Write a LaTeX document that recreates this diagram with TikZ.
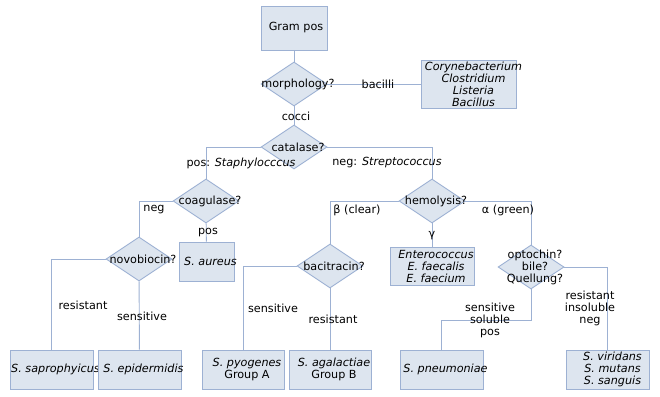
\documentclass[tikz,border=0pt]{standalone}
\usepackage{fontspec}
\setmainfont{DejaVu Sans}
\usepackage{xcolor}
\usetikzlibrary{shapes.geometric}

\definecolor{boxfill}{HTML}{DDE5EF}
\definecolor{boxline}{HTML}{9DB1D3}

\tikzset{
  box/.style={draw=boxline,fill=boxfill,line width=0.9pt,rectangle,
    inner sep=0pt,minimum width=83pt,minimum height=39pt},
  dia/.style={draw=boxline,fill=boxfill,line width=0.9pt,diamond,
    inner sep=0pt,minimum width=66pt,minimum height=44pt},
  edge/.style={draw=boxline,line width=0.9pt},
  every label/.style={align=center,xshift=4pt},
  every node/.style={font=\fontsize{11.2}{12}\selectfont}
}

\begin{document}
\begin{tikzpicture}[x=1pt,y=-1pt]
  \useasboundingbox (0,0) rectangle (660,396);
  % boxes and tests
  \node[box,minimum width=66pt,minimum height=44pt,
    label={[xshift=-2pt]center:Gram pos}] (gram) at (294,28) {};
  \node[dia,label=center:{morphology?}] (morph) at (294,84) {};
  \node[box,minimum width=95pt,minimum height=48pt,
    label={[xshift=1pt]center:{\itshape Corynebacterium\\\itshape Clostridium\\\itshape Listeria\\\itshape Bacillus}}] (bacil) at (468.5,84) {};
  \node[dia,label=center:{catalase?}] (cat) at (294,147) {};
  \node[dia,label=center:{coagulase?}] (coag) at (206,201) {};
  \node[box,minimum width=55pt,label=center:{\itshape S. aureus}] (aureus) at (206.5,261.5) {};
  \node[dia,label=center:{novobiocin?}] (novo) at (139,259) {};
  \node[box,label=center:{\itshape S. saprophyicus}] (sapro) at (51.5,369.5) {};
  \node[box,label=center:{\itshape S. epidermidis}] (epid) at (139.5,369.5) {};
  \node[dia,label=center:{hemolysis?}] (hemo) at (432,201) {};
  \node[box,minimum width=84pt,minimum height=38pt,
    label=center:{\itshape Enterococcus\\\itshape E. faecalis\\\itshape E. faecium}] (entero) at (432,266) {};
  \node[dia,label=center:{bacitracin?}] (baci) at (330,266) {};
  \node[box,minimum width=82pt,label=center:{\itshape S. pyogenes\\Group A}] (pyog) at (243,369.5) {};
  \node[box,minimum width=82pt,label=center:{\itshape S. agalactiae\\Group B}] (agal) at (330,369.5) {};
  \node[dia,label=center:{optochin?\\bile?\\Quellung?}] (opto) at (531,267) {};
  \node[box,label=center:{\itshape S. pneumoniae}] (pneu) at (441.5,369.5) {};
  \node[box,label={[xshift=1pt]center:{\itshape S. viridans\\\itshape S. mutans\\\itshape S. sanguis}}] (viri) at (607.5,369.5) {};
  % connectors
  \coordinate (bend) at (531,320);
  \path[edge] (gram) -- (morph);
  \path[edge] (morph.east) -- (bacil.west);
  \path[edge] (morph) -- (cat);
  \path[edge] (cat.west) -| (coag.north);
  \path[edge] (cat.east) -| (hemo.north);
  \path[edge] (coag.west) -| (novo.north);
  \path[edge] (coag) -- (aureus);
  \path[edge] (novo.west) -| (sapro.north);
  \path[edge] (novo) -- (epid);
  \path[edge] (hemo.west) -| (baci.north);
  \path[edge] (hemo) -- (entero);
  \path[edge] (hemo.east) -| (opto.north);
  \path[edge] (baci.west) -| (pyog.north);
  \path[edge] (baci) -- (agal);
  \path[edge] (opto.south) -- (bend) -| (pneu.north);
  \path[edge] (opto.east) -| (viri.north);
  % edge labels
  \node (lbacil) at (378,84) {bacilli};
  \node (lcocci) at (296,116) {cocci};
  \node (lstaph) at (241,163) {pos: \itshape Staphylocccus};
  \node (lstrep) at (387,163) {neg: \itshape Streptococcus};
  \node (lcneg) at (154,210) {neg};
  \node (lcpos) at (208,233) {pos};
  \node (lnres) at (83,305) {resistant};
  \node (lnsen) at (142,316) {sensitive};
  \node (lbeta) at (357,210) {β (clear)};
  \node (lgamma) at (432,236) {γ};
  \node (lalpha) at (508,210) {α (green)};
  \node (lbsen) at (273,308) {sensitive};
  \node (lbres) at (333,319) {resistant};
  \node[align=center] (lopos) at (490,320) {sensitive\\soluble\\pos};
  \node[align=center] (loneg) at (590,308) {resistant\\insoluble\\neg};
\end{tikzpicture}
\end{document}
